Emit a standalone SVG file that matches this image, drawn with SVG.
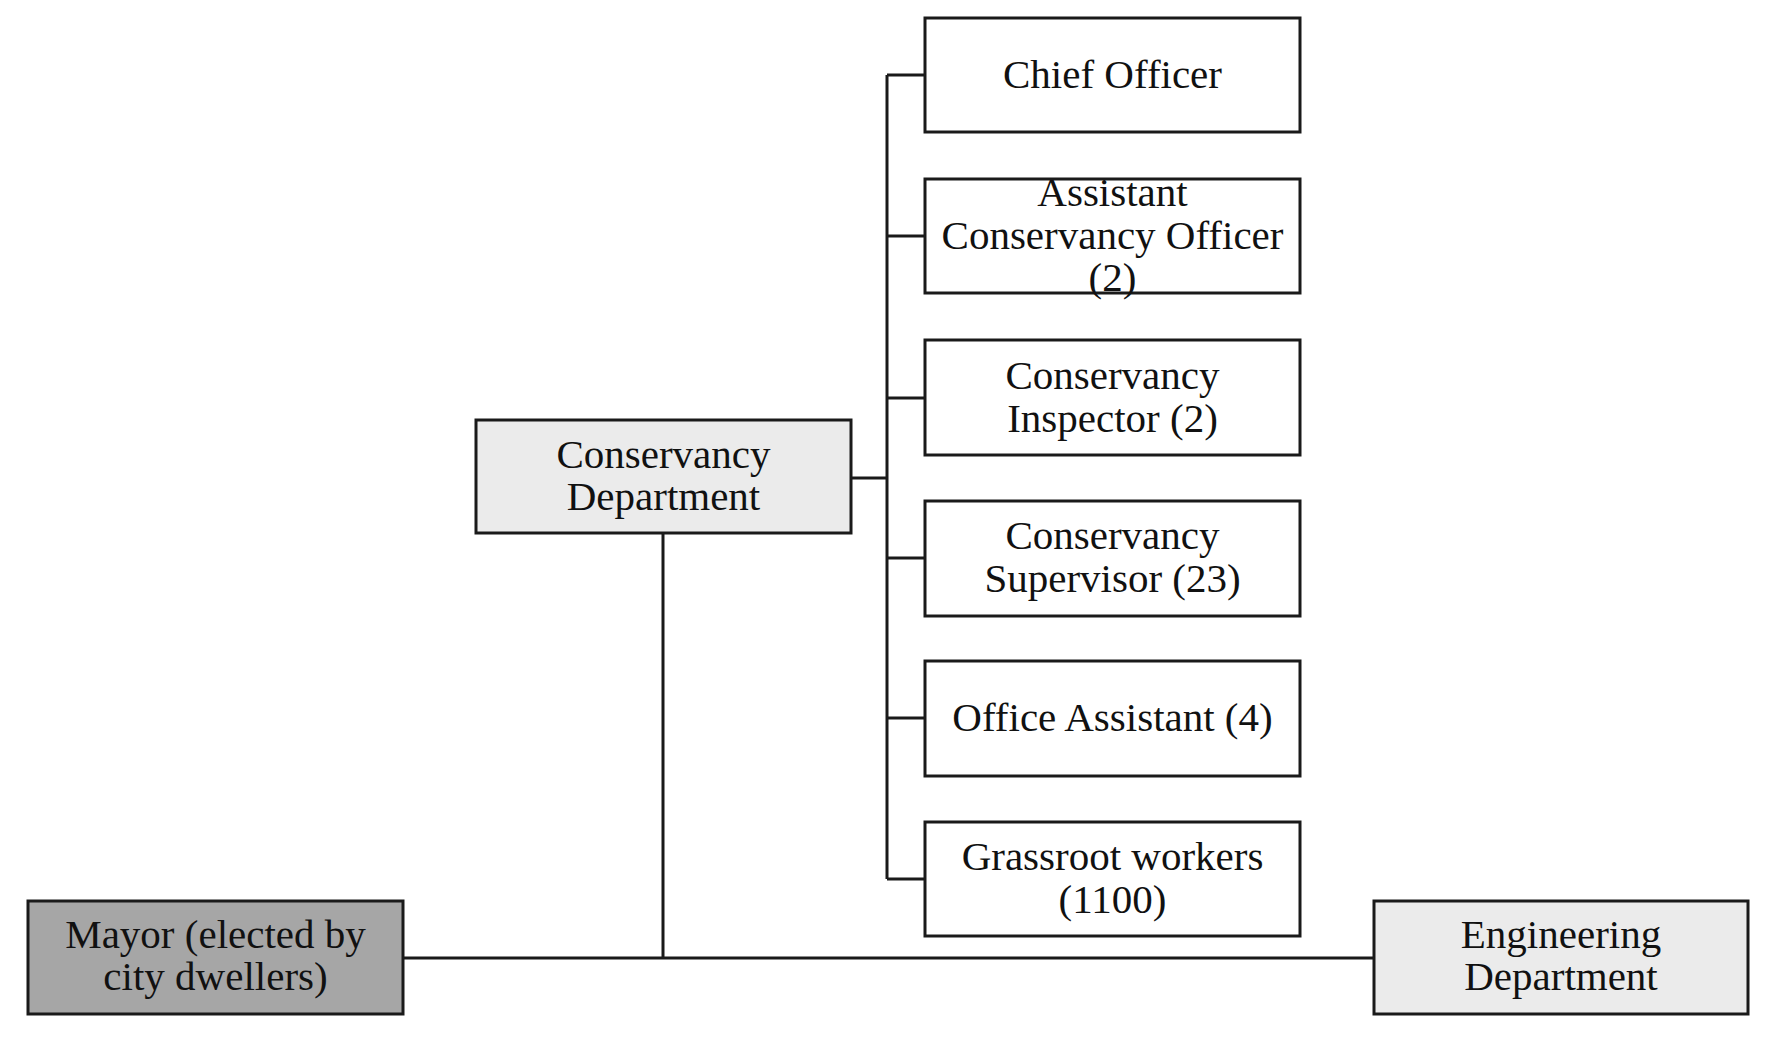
<svg xmlns="http://www.w3.org/2000/svg" width="1771" height="1042" viewBox="0 0 1771 1042">
<style>
.box{fill:#ffffff;stroke:#1a1a1a;stroke-width:3}
.light{fill:#ebebeb}
.dark{fill:#a6a6a6}
.conn{stroke:#1a1a1a;stroke-width:3;fill:none}
text{font-family:"Liberation Serif","Times New Roman",serif;font-size:41px;fill:#111;text-anchor:middle}
</style>
<rect width="1771" height="1042" fill="#ffffff"/>
<g id="connectors">
<line class="conn" x1="887" y1="75" x2="887" y2="879"/>
<line class="conn" x1="887" y1="75" x2="925" y2="75"/>
<line class="conn" x1="887" y1="236" x2="925" y2="236"/>
<line class="conn" x1="887" y1="398" x2="925" y2="398"/>
<line class="conn" x1="887" y1="558" x2="925" y2="558"/>
<line class="conn" x1="887" y1="718" x2="925" y2="718"/>
<line class="conn" x1="887" y1="879" x2="925" y2="879"/>
<line class="conn" x1="851" y1="478" x2="887" y2="478"/>
<line class="conn" x1="663" y1="533" x2="663" y2="958"/>
<line class="conn" x1="403" y1="958" x2="1374" y2="958"/>
</g>
<g id="chief">
<rect class="box" x="925" y="18" width="375" height="114"/>
<text x="1112.5" y="88">Chief Officer</text>
</g>
<g id="assistant">
<rect class="box" x="925" y="179" width="375" height="114"/>
<text x="1112.5" y="206">Assistant</text>
<text x="1112.5" y="249">Conservancy Officer</text>
<text x="1112.5" y="291">(2)</text>
</g>
<g id="inspector">
<rect class="box" x="925" y="340" width="375" height="115"/>
<text x="1112.5" y="389">Conservancy</text>
<text x="1112.5" y="432">Inspector (2)</text>
</g>
<g id="supervisor">
<rect class="box" x="925" y="501" width="375" height="115"/>
<text x="1112.5" y="549">Conservancy</text>
<text x="1112.5" y="592">Supervisor (23)</text>
</g>
<g id="office">
<rect class="box" x="925" y="661" width="375" height="115"/>
<text x="1112.5" y="731">Office Assistant (4)</text>
</g>
<g id="grassroot">
<rect class="box" x="925" y="822" width="375" height="114"/>
<text x="1112.5" y="870">Grassroot workers</text>
<text x="1112.5" y="913">(1100)</text>
</g>
<g id="conservancy">
<rect class="box light" x="476" y="420" width="375" height="113"/>
<text x="663.5" y="468">Conservancy</text>
<text x="663.5" y="510">Department</text>
</g>
<g id="mayor">
<rect class="box dark" x="28" y="901" width="375" height="113"/>
<text x="215.5" y="948">Mayor (elected by</text>
<text x="215.5" y="990">city dwellers)</text>
</g>
<g id="engineering">
<rect class="box light" x="1374" y="901" width="374" height="113"/>
<text x="1561" y="948">Engineering</text>
<text x="1561" y="990">Department</text>
</g>
</svg>
